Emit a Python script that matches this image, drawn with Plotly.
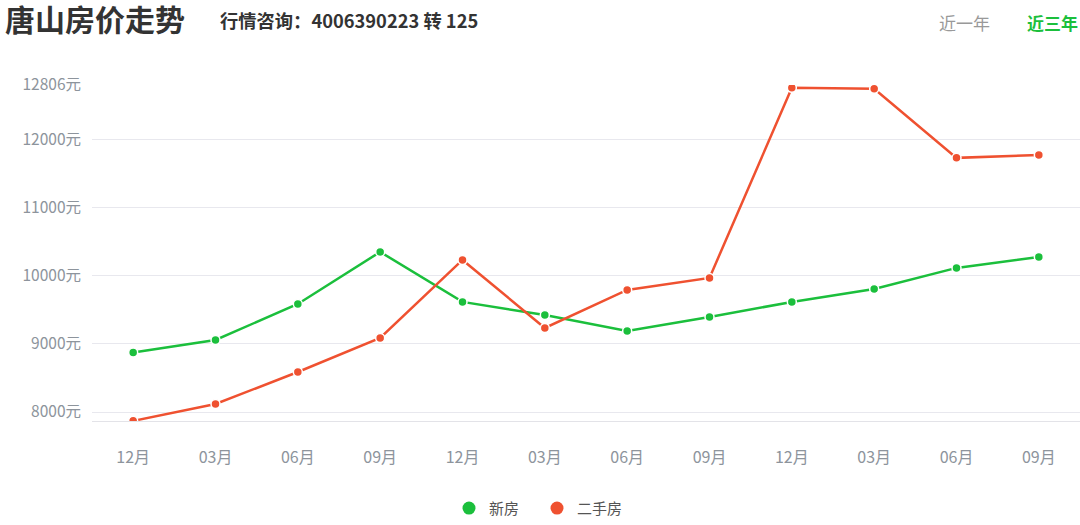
import plotly.graph_objects as go

months = ["12月", "03月", "06月", "09月", "12月", "03月", "06月", "09月", "12月", "03月", "06月", "09月"]
new_house = [8875, 9059, 9588, 10353, 9618, 9426, 9191, 9397, 9618, 9809, 10118, 10279]
second_hand = [7870, 8118, 8588, 9088, 10235, 9235, 9794, 9971, 12765, 12750, 11735, 11779]
y_ticks = [8000, 9000, 10000, 11000, 12000, 12806]
y_tick_text = [f"{v}元" for v in y_ticks]

GREEN = "#1bbf3c"
RED = "#ef5130"
FONT = "Noto Sans CJK SC"

x = list(range(len(months)))

fig = go.Figure()
for name, vals, col in [("新房", new_house, GREEN), ("二手房", second_hand, RED)]:
    fig.add_trace(go.Scatter(
        x=x, y=vals, mode="lines+markers", name=name, showlegend=False,
        line=dict(color=col, width=2.5),
        marker=dict(color=col, size=9, line=dict(color="white", width=1.5)),
    ))
    fig.add_trace(go.Scatter(
        x=[None], y=[None], mode="markers", name=name,
        marker=dict(color=col, size=13),
    ))

fig.update_layout(
    width=1080, height=525,
    margin=dict(l=92, r=0, t=85, b=104),
    paper_bgcolor="white", plot_bgcolor="white",
    font=dict(family=FONT, color="#8d949c", size=14),
    showlegend=True,
    legend=dict(orientation="h", x=(449 - 92) / 988, xanchor="left", xref="paper",
                y=-0.26, yanchor="middle", font=dict(size=15, color="#555"),
                itemwidth=30, entrywidth=43, entrywidthmode="pixels",
                traceorder="normal", borderwidth=0),
    xaxis=dict(range=[-0.5, 11.5], tickvals=x, ticktext=months, showgrid=False,
               zeroline=False, showline=True, linecolor="#e3e3e8", linewidth=1,
               ticks="", ticklabelstandoff=22, tickfont=dict(size=16, color="#8d949c")),
    yaxis=dict(range=[7868, 12806], tickvals=y_ticks, ticktext=y_tick_text,
               showgrid=True, gridcolor="#e8e8ee", gridwidth=1, zeroline=False,
               showline=False, ticks="", ticklabelstandoff=10,
               tickfont=dict(size=15.5, color="#8d949c")),
)

fig.add_annotation(text="<b>唐山房价走势</b>", xref="paper", yref="paper",
                   x=-89/988, y=1 + (85 - 18) / 336, xanchor="left", yanchor="middle",
                   showarrow=False, font=dict(size=30, color="#333333", family=FONT))
fig.add_annotation(text="<b>行情咨询：4006390223 转 125</b>", xref="paper", yref="paper",
                   x=(218 - 92) / 988, y=1 + (85 - 20) / 336, xanchor="left", yanchor="middle",
                   showarrow=False, font=dict(size=18.3, color="#333333", family=FONT))
fig.add_annotation(text="近一年", xref="paper", yref="paper",
                   x=(937 - 92) / 988, y=1 + (85 - 22) / 336, xanchor="left", yanchor="middle",
                   showarrow=False, font=dict(size=17, color="#999999", family=FONT))
fig.add_annotation(text="<b>近三年</b>", xref="paper", yref="paper",
                   x=1.0, y=1 + (85 - 22) / 336, xanchor="right", yanchor="middle",
                   showarrow=False, font=dict(size=17, color=GREEN, family=FONT))

fig.write_html("out.html", config={"displayModeBar": False},
               post_script="document.body.style.margin='0';document.body.style.overflow='hidden';")
